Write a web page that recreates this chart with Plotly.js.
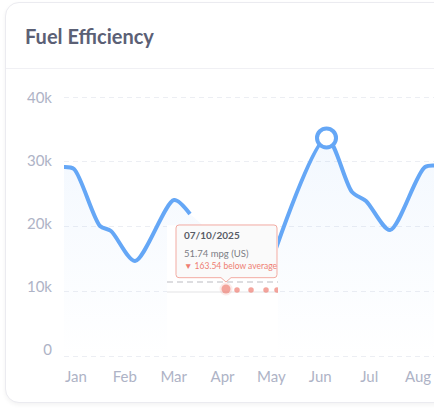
<!DOCTYPE html>
<html>
<head>
<meta charset="utf-8">
<script src="https://cdn.plot.ly/plotly-3.0.1.min.js"></script>
<style>
  html, body { margin: 0; padding: 0; background: #ffffff; }
  #card { position: absolute; left: 5px; top: 2px; width: 480px; height: 399px;
          border: 1px solid #ebebf0; border-radius: 14px; background: #fff;
          box-shadow: 0 2px 4px rgba(0,0,0,0.05); }
  #sep { position: absolute; left: 6px; top: 68px; width: 480px; height: 1px; background: #f0f0f4; }
  #plot { position: absolute; left: 0; top: 0; width: 434px; height: 412px; }
</style>
</head>
<body>
<div id="card"></div>
<div id="sep"></div>
<div id="plot"></div>
<script>
// ---- data ----
const months = ['Jan', 'Feb', 'Mar', 'Apr', 'May', 'Jun', 'Jul', 'Aug'];
const monthPos = [0, 1, 2, 3, 4, 5, 6, 7];

// fuel efficiency series (x in month units, null = gap)
const effX = [-0.246, -0.041, 0.491, 0.716, 1.208, 2.006, 2.333, 3.0, 3.868, 5.127, 5.649, 5.935, 6.427, 7.143, 7.45];
const effY = [29190, 28880, 20080, 19310, 14670, 24090, 21930, null, 11740, 33670, 25330, 23940, 19460, 29190, 29340];

// projected / hovered segment
const projX = [3.07, 3.295, 3.582, 3.889, 4.114];
const projY = [10350, 10190, 10190, 10190, 10190];
const hoverIndex = 0;

const averageValue = 11430;
const bandBaseline = 9900;
const highlightWindow = [1.8625, 4.1343];
const highlightTop = 20200;

const yTicks = [0, 10000, 20000, 30000, 40000];
const yTickText = ['0', '10k', '20k', '30k', '40k'];

const tipDate = '07/10/2025';
const tipValue = '51.74 mpg (US)';
const tipDelta = '▼ 163.54 below average';

// ---- styling ----
const blue = '#65a7f6';
const red = '#ef7e72';
const xRange = [-0.2456, 7.327];
const yRange = [-309, 43398];
const labelRange = [-1352, 43658];

let peakIdx = 0;
effY.forEach((v, i) => { if (v !== null && v > effY[peakIdx]) peakIdx = i; });

const dom = highlightWindow.map(w => (w - xRange[0]) / (xRange[1] - xRange[0]));

const traces = [
  {
    x: effX, y: effY, type: 'scatter', mode: 'lines',
    line: { color: blue, width: 4, shape: 'spline', smoothing: 0.8 },
    connectgaps: false, fill: 'tozeroy',
    fillgradient: { type: 'vertical', start: 0, stop: 34000,
      colorscale: [[0, 'rgba(101,167,246,0.0)'], [1, 'rgba(101,167,246,0.08)']] },
    xaxis: 'x', yaxis: 'y', hoverinfo: 'skip'
  },
  {
    x: [effX[peakIdx]], y: [effY[peakIdx]], type: 'scatter', mode: 'markers',
    marker: { size: 19, color: '#ffffff', line: { color: blue, width: 4 } },
    cliponaxis: false, xaxis: 'x', yaxis: 'y', hoverinfo: 'skip'
  },
  {
    // carrier for the tick-label axis
    x: [], y: [], type: 'scatter', mode: 'lines', xaxis: 'x', yaxis: 'y3', hoverinfo: 'skip'
  },
  {
    x: [highlightWindow[0], highlightWindow[1], highlightWindow[1], highlightWindow[0]],
    y: [300, 300, highlightTop, highlightTop],
    type: 'scatter', mode: 'lines', fill: 'toself', fillcolor: '#ffffff',
    line: { width: 0 }, xaxis: 'x2', yaxis: 'y2', hoverinfo: 'skip'
  },
  {
    x: highlightWindow, y: [bandBaseline, bandBaseline], type: 'scatter', mode: 'lines',
    line: { color: '#ececee', width: 1.5 }, xaxis: 'x2', yaxis: 'y2', hoverinfo: 'skip'
  },
  {
    x: highlightWindow, y: [averageValue, averageValue], type: 'scatter', mode: 'lines',
    line: { color: '#d2d2d6', width: 1.5, dash: '6px,4px' }, xaxis: 'x2', yaxis: 'y2', hoverinfo: 'skip'
  },
  {
    x: projX, y: projY, type: 'scatter', mode: 'markers',
    marker: {
      color: red,
      size: projX.map((_, i) => i === hoverIndex ? 9 : 5.5),
      line: { color: 'rgba(239,126,114,0.22)', width: projX.map((_, i) => i === hoverIndex ? 4 : 0) }
    },
    xaxis: 'x2', yaxis: 'y2', hoverinfo: 'skip'
  }
];

const hx = projX[hoverIndex], hy = projY[hoverIndex];

const layout = {
  width: 434, height: 412,
  margin: { l: 64, r: 0, t: 75, b: 54 },
  paper_bgcolor: 'rgba(0,0,0,0)', plot_bgcolor: 'rgba(0,0,0,0)',
  showlegend: false, hovermode: false,
  font: { family: 'Lato, sans-serif' },
  title: {
    text: 'Fuel Efficiency', xref: 'container', yref: 'container',
    x: 25 / 434, xanchor: 'left', y: 1 - 37 / 412, yanchor: 'middle',
    font: { family: 'Lato, sans-serif', size: 20, color: '#5b6075', weight: 700 }
  },
  xaxis: {
    range: xRange, tickvals: monthPos, ticktext: months,
    showgrid: false, zeroline: false, showline: false, ticks: '',
    ticklabelstandoff: 8,
    tickfont: { size: 15, color: '#aeb3c6', family: 'Lato, sans-serif' }
  },
  yaxis: {
    range: yRange, tickvals: yTicks, showticklabels: false,
    showgrid: true, gridcolor: '#eceef3', gridwidth: 1, griddash: '5px,4px',
    zeroline: false, showline: false, ticks: ''
  },
  yaxis3: {
    overlaying: 'y', side: 'left', anchor: 'x', range: labelRange,
    tickvals: yTicks, ticktext: yTickText, showgrid: false, zeroline: false,
    showline: false, ticks: '', ticklabelstandoff: 11,
    tickfont: { size: 15, color: '#aeb3c6', family: 'Lato, sans-serif' }
  },
  xaxis2: { domain: dom, range: highlightWindow, anchor: 'y2', visible: false },
  yaxis2: { domain: [0, 1], range: yRange, anchor: 'x2', visible: false },
  shapes: [
    {
      type: 'path', layer: 'above',
      xref: 'x', yref: 'y', xsizemode: 'pixel', ysizemode: 'pixel',
      xanchor: hx, yanchor: hy,
      path: 'M -47,64 L 48,64 Q 51,64 51,61 L 51,14.3 Q 51,11.3 48,11.3 L 5,11.3 L 0,7 L -5,11.3 L -47,11.3 Q -50,11.3 -50,14.3 L -50,61 Q -50,64 -47,64 Z',
      fillcolor: '#fafafa', line: { color: '#f2aba2', width: 1 }
    }
  ],
  annotations: [
    { xref: 'x', yref: 'y', x: hx, y: hy, xanchor: 'left', yanchor: 'middle',
      xshift: -44, yshift: 54, showarrow: false, text: '<b>' + tipDate + '</b>',
      font: { size: 10, color: '#585c66', family: 'Lato, sans-serif' } },
    { xref: 'x', yref: 'y', x: hx, y: hy, xanchor: 'left', yanchor: 'middle',
      xshift: -44, yshift: 35, showarrow: false, text: tipValue,
      font: { size: 9.5, color: '#7a7d85', family: 'Lato, sans-serif' } },
    { xref: 'x', yref: 'y', x: hx, y: hy, xanchor: 'left', yanchor: 'middle',
      xshift: -44, yshift: 23, showarrow: false, text: tipDelta,
      font: { size: 8.5, color: red, family: 'Lato, sans-serif' } }
  ]
};

Plotly.newPlot('plot', traces, layout, { displayModeBar: false, staticPlot: true });
</script>
</body>
</html>
